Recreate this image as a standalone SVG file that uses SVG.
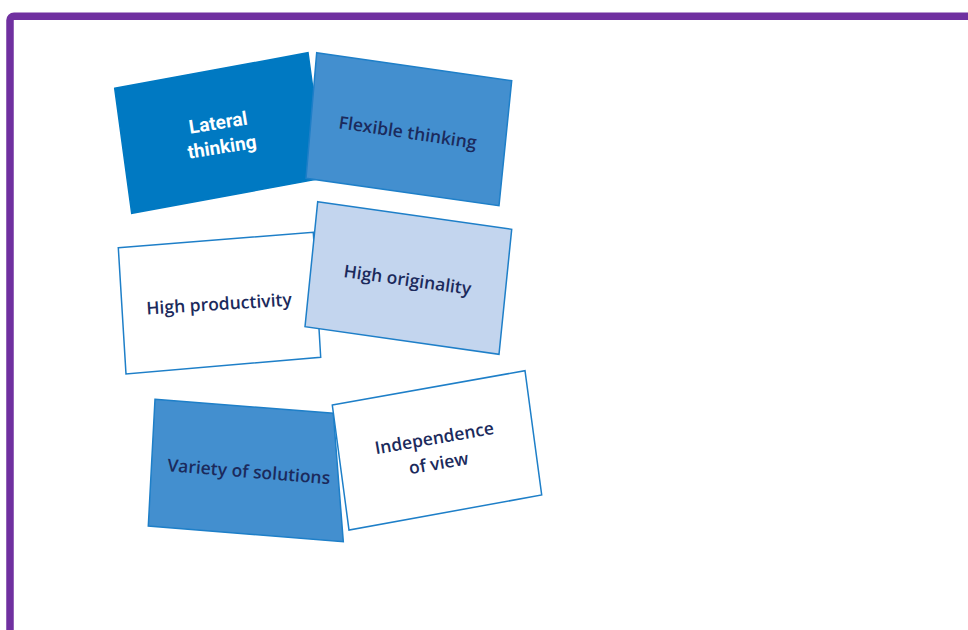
<svg xmlns="http://www.w3.org/2000/svg" width="968" height="630" viewBox="0 0 968 630">
<style>
.frame{fill:none;stroke:#7030A0;stroke-width:7.5}
.card{stroke:#1E7FC8;stroke-width:1.5;stroke-linejoin:miter}
.dark{fill:#0079C2;stroke:#0079C2}
.mid{fill:#438FCF}
.light{fill:#C3D5EE}
.white{fill:#FFFFFF}
.t{font-family:"Open Sans","Noto Sans",sans-serif;font-weight:600;font-size:17.5px;fill:#1B2A5C;text-anchor:middle}
.tw{font-family:Roboto,"Liberation Sans",sans-serif;font-weight:700;font-size:19px;fill:#FFFFFF;text-anchor:middle}
</style>
<rect width="968" height="630" fill="#FFFFFF"/>
<rect class="frame" x="10" y="16.3" width="1000" height="700" rx="4"/>
<g id="connectors"/>
<g id="lateral-thinking">
<polygon class="card dark" points="114.7,88.3 308,52.7 325,177.7 131.7,213.3"/>
<g transform="translate(220,134.5) rotate(-9)">
<text class="tw" x="0" y="-5.5">Lateral</text>
<text class="tw" x="0" y="19">thinking</text>
</g>
</g>
<g id="flexible-thinking">
<polygon class="card mid" points="316.7,52.7 511.7,80.7 499,205.7 306,178.3"/>
<text class="t" transform="translate(407.7,132.5) rotate(8.5)" y="6">Flexible thinking</text>
</g>
<g id="high-productivity">
<polygon class="card white" points="118.3,247.7 313.3,232.3 320.7,357.3 126,374"/>
<text class="t" transform="translate(219,304) rotate(-3.5)" y="6">High productivity</text>
</g>
<g id="high-originality">
<polygon class="card light" points="317.7,201.7 511.7,229.3 499,354.3 305,326.7"/>
<text class="t" transform="translate(407.5,280) rotate(8)" y="6">High originality</text>
</g>
<g id="variety-of-solutions">
<polygon class="card mid" points="155,399.3 333.3,413.3 343.3,541.7 148.3,526"/>
<text class="t" transform="translate(248.8,471.7) rotate(4.6)" y="6">Variety of solutions</text>
</g>
<g id="independence-of-view">
<polygon class="card white" points="332.3,405 525,370.7 541.7,495 349,530"/>
<g transform="translate(436.5,450.5) rotate(-9.8)">
<text class="t" x="0" y="-6.5">Independence</text>
<text class="t" x="0" y="19">of view</text>
</g>
</g>
</svg>
